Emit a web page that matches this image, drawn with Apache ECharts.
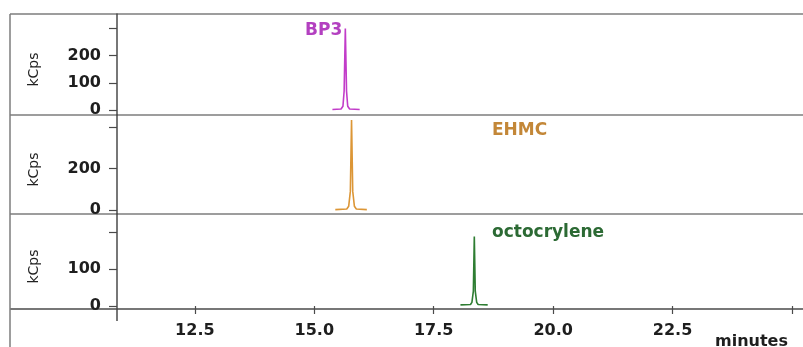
<!DOCTYPE html>
<html>
<head>
<meta charset="utf-8">
<script src="https://cdn.jsdelivr.net/npm/echarts@6/dist/echarts.min.js"></script>
<style>
  html, body { margin: 0; padding: 0; background: #ffffff; }
  #chart { width: 803px; height: 347px; }
</style>
</head>
<body>
<div id="chart"></div>
<script>
// Retention time (minutes) and detector signal (kCps) for each compound trace
const bp3Time  = [15.38, 15.56, 15.60, 15.625, 15.65, 15.675, 15.70, 15.74, 15.95];
const bp3Kcps  = [2, 4, 14, 70, 300, 70, 14, 4, 2];
const ehmcTime = [15.44, 15.68, 15.72, 15.755, 15.78, 15.805, 15.84, 15.88, 16.10];
const ehmcKcps = [2, 5, 18, 90, 434, 90, 18, 5, 2];
const octoTime = [18.06, 18.27, 18.30, 18.33, 18.35, 18.37, 18.40, 18.43, 18.63];
const octoKcps = [3, 4, 10, 40, 187, 40, 10, 4, 3];

const compounds = ['BP3', 'EHMC', 'octocrylene'];

// Axis ticks and labels
const xTicks      = [12.5, 15.0, 17.5, 20.0, 22.5, 25.0];
const xTickLabels = [12.5, 15.0, 17.5, 20.0, 22.5];
const yTicks      = [[0, 100, 200, 300], [0, 200, 400], [0, 100, 200]];
const yTickLabels = [[0, 100, 200], [0, 200], [0, 100]];
const yUnit = 'kCps';
const xUnit = 'minutes';

// Axis extents
const xRange  = [10.87, 25.21];
const yRanges = [[-18, 353], [-19, 458], [-8, 248]];

// Page layout (pixels)
const W = 803, H = 347;
const plotLeft = 117, plotRight = 802, frameLeft = 10;
const panels = [
  { top: 14,  height: 101 },
  { top: 115, height: 99 },
  { top: 214, height: 95 }
];
const traceColors = ['#c23cc9', '#dc9636', '#2e7d32'];
const nameColors  = ['#b340c0', '#c38738', '#2c6a34'];
const namePos = [
  { x: 305, y: 31 },
  { x: 492, y: 131 },
  { x: 492, y: 233 }
];
const frameColor = '#7d7d7d';
const axisColor = '#4a4a4a';
const labelFont = { fontFamily: 'DejaVu Sans', fontWeight: 'bold', fontSize: 16, color: '#1e1e1e' };

const traces = [
  bp3Time.map((t, i) => [t, bp3Kcps[i]]),
  ehmcTime.map((t, i) => [t, ehmcKcps[i]]),
  octoTime.map((t, i) => [t, octoKcps[i]])
];

const grids = panels.map(p => ({
  left: plotLeft, top: p.top, width: plotRight - plotLeft, height: p.height,
  outerBoundsMode: 'none', containLabel: false
}));

const last = panels.length - 1;
const xAxes = panels.map((p, i) => ({
  type: 'value', gridIndex: i, min: xRange[0], max: xRange[1],
  show: i === last,
  axisLine: { show: false },
  splitLine: { show: false },
  axisTick: { show: true, customValues: xTicks, length: 8, inside: false,
              lineStyle: { color: axisColor, width: 1.2 } },
  axisLabel: { show: true, customValues: xTickLabels, margin: 14,
               formatter: v => v.toFixed(1), ...labelFont }
}));

const yAxes = panels.map((p, i) => ({
  type: 'value', gridIndex: i, min: yRanges[i][0], max: yRanges[i][1],
  name: yUnit, nameLocation: 'middle', nameRotate: 90, nameGap: 76,
  nameTextStyle: { fontFamily: 'DejaVu Sans', fontSize: 14, color: '#222', padding: [0, 10, 0, 0] },
  axisLine: { show: true, lineStyle: { color: axisColor, width: 1.5 } },
  splitLine: { show: false },
  axisTick: { show: true, customValues: yTicks[i], length: 8,
              lineStyle: { color: axisColor, width: 1.2 } },
  axisLabel: { show: true, customValues: yTickLabels[i], margin: 16, ...labelFont }
}));

const series = traces.map((d, i) => ({
  name: compounds[i], type: 'line', xAxisIndex: i, yAxisIndex: i,
  data: d, showSymbol: false, smooth: false, silent: true,
  lineStyle: { color: traceColors[i], width: 1.6 }
}));

// Frame: panel separators, outer left edge and the lower y-axis stub
const hLine = (y) => ({ type: 'line', silent: true,
  shape: { x1: frameLeft, y1: y, x2: W, y2: y },
  style: { stroke: frameColor, lineWidth: 1.5 } });
const frame = [
  hLine(panels[0].top),
  ...panels.slice(1).map(p => hLine(p.top)),
  { type: 'line', silent: true,
    shape: { x1: frameLeft, y1: panels[last].top + panels[last].height, x2: W, y2: panels[last].top + panels[last].height },
    style: { stroke: axisColor, lineWidth: 1.5 } },
  { type: 'line', silent: true,
    shape: { x1: frameLeft, y1: panels[0].top, x2: frameLeft, y2: H },
    style: { stroke: frameColor, lineWidth: 1.5 } },
  { type: 'line', silent: true,
    shape: { x1: plotLeft, y1: panels[last].top + panels[last].height, x2: plotLeft, y2: panels[last].top + panels[last].height + 12 },
    style: { stroke: axisColor, lineWidth: 1.5 } }
];

const texts = compounds.map((c, i) => ({
  type: 'text', silent: true, x: namePos[i].x, y: namePos[i].y,
  style: { text: c, fill: nameColors[i], font: 'bold 17px "DejaVu Sans"',
           textAlign: 'left', textVerticalAlign: 'middle' }
}));
texts.push({
  type: 'text', silent: true, x: 715, y: 342,
  style: { text: xUnit, fill: '#1e1e1e', font: 'bold 16px "DejaVu Sans"',
           textAlign: 'left', textVerticalAlign: 'middle' }
});

const chart = echarts.init(document.getElementById('chart'), null, { renderer: 'canvas' });
chart.setOption({
  animation: false,
  backgroundColor: '#ffffff',
  grid: grids,
  xAxis: xAxes,
  yAxis: yAxes,
  series: series,
  graphic: { elements: [...frame, ...texts] }
});
</script>
</body>
</html>
